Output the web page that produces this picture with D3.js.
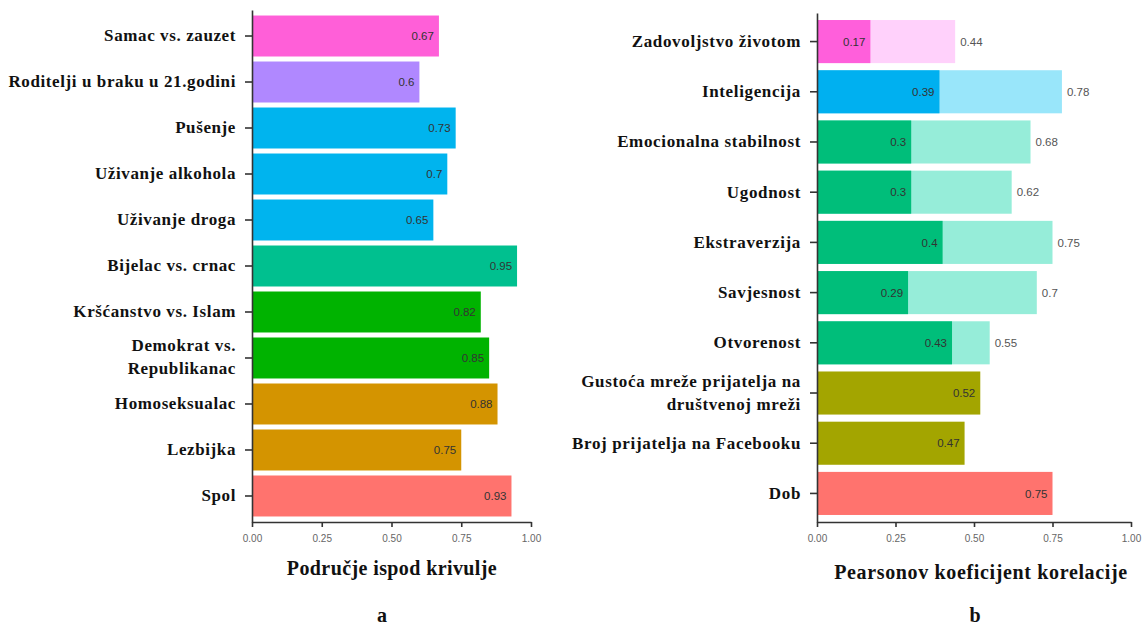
<!DOCTYPE html>
<html>
<head>
<meta charset="utf-8">
<script src="https://cdn.jsdelivr.net/npm/d3@7"></script>
<style>
  html, body { margin: 0; padding: 0; background: #ffffff; }
  svg { display: block; }
</style>
</head>
<body>
<svg id="chart" width="1148" height="628"></svg>
<script>
// ---------- DATA ----------
const leftCategories = [
  "Samac vs. zauzet",
  "Roditelji u braku u 21.godini",
  "Pušenje",
  "Uživanje alkohola",
  "Uživanje droga",
  "Bijelac vs. crnac",
  "Kršćanstvo vs. Islam",
  "Demokrat vs.\nRepublikanac",
  "Homoseksualac",
  "Lezbijka",
  "Spol"
];
const leftValues = [0.67, 0.6, 0.73, 0.7, 0.65, 0.95, 0.82, 0.85, 0.88, 0.75, 0.93];
const leftColors = ["#FF5FD8", "#B088FF", "#00B4EE", "#00B4EE", "#00B4EE", "#00C08F", "#00B300", "#00B300", "#D49400", "#D49400", "#FF736E"];

const rightCategories = [
  "Zadovoljstvo životom",
  "Inteligencija",
  "Emocionalna stabilnost",
  "Ugodnost",
  "Ekstraverzija",
  "Savjesnost",
  "Otvorenost",
  "Gustoća mreže prijatelja na\ndruštvenoj mreži",
  "Broj prijatelja na Facebooku",
  "Dob"
];
const rightValues = [0.17, 0.39, 0.3, 0.3, 0.4, 0.29, 0.43, 0.52, 0.47, 0.75];
const rightUpperValues = [0.44, 0.78, 0.68, 0.62, 0.75, 0.7, 0.55, null, null, null];
const rightColors = ["#FF5FDB", "#00B0F0", "#00BE7A", "#00BE7A", "#00BE7A", "#00BE7A", "#00BE7A", "#A3A500", "#A3A500", "#FF736E"];
const rightLightColors = ["#FFD1FB", "#99E6FA", "#96EDD9", "#96EDD9", "#96EDD9", "#96EDD9", "#96EDD9", null, null, null];

const xTicks = [0, 0.25, 0.5, 0.75, 1];
const leftTitle = "Područje ispod krivulje";
const rightTitle = "Pearsonov koeficijent korelacije";
const leftTag = "a";
const rightTag = "b";

// ---------- DRAW ----------
const svg = d3.select("#chart");
const serif = "'Liberation Serif', 'Times New Roman', serif";
const sans = "'Liberation Sans', Arial, sans-serif";

function panel(cfg) {
  const x = d3.scaleLinear().domain([0, 1]).range(cfg.xRange);
  const y = d3.scaleBand().domain(cfg.categories).range(cfg.yRange)
    .paddingInner(cfg.pi).paddingOuter(cfg.po);
  const g = svg.append("g");

  // light (upper) bars
  if (cfg.upper) {
    g.selectAll("rect.light").data(cfg.categories).enter()
      .filter((d, i) => cfg.upper[i] != null)
      .append("rect").attr("class", "light")
      .attr("x", x(0))
      .attr("y", d => y(d))
      .attr("width", d => x(cfg.upper[cfg.categories.indexOf(d)]) - x(0))
      .attr("height", y.bandwidth())
      .attr("fill", d => cfg.lightColors[cfg.categories.indexOf(d)]);
  }
  // main bars
  g.selectAll("rect.main").data(cfg.categories).enter()
    .append("rect").attr("class", "main")
    .attr("x", x(0))
    .attr("y", d => y(d))
    .attr("width", (d, i) => x(cfg.values[i]) - x(0))
    .attr("height", y.bandwidth())
    .attr("fill", (d, i) => cfg.colors[i]);

  // value labels inside
  g.selectAll("text.val").data(cfg.categories).enter()
    .append("text").attr("class", "val")
    .attr("x", (d, i) => x(cfg.values[i]) - 5)
    .attr("y", d => y(d) + y.bandwidth() / 2)
    .attr("dy", "0.36em")
    .attr("text-anchor", "end")
    .attr("font-family", sans).attr("font-size", 11.5)
    .attr("fill", "#333")
    .text((d, i) => String(cfg.values[i]));

  // upper value labels outside
  if (cfg.upper) {
    g.selectAll("text.uval").data(cfg.categories).enter()
      .filter((d, i) => cfg.upper[i] != null)
      .append("text").attr("class", "uval")
      .attr("x", d => x(cfg.upper[cfg.categories.indexOf(d)]) + 5)
      .attr("y", d => y(d) + y.bandwidth() / 2)
      .attr("dy", "0.36em")
      .attr("text-anchor", "start")
      .attr("font-family", sans).attr("font-size", 11.5)
      .attr("fill", "#555")
      .text(d => String(cfg.upper[cfg.categories.indexOf(d)]));
  }

  // x axis
  const xAxis = g.append("g")
    .attr("transform", `translate(0,${cfg.yRange[1]})`)
    .call(d3.axisBottom(x).tickValues(xTicks).tickFormat(d3.format(".2f"))
      .tickSize(5).tickSizeOuter(0).tickPadding(8));
  xAxis.select(".domain").attr("stroke", "#333").attr("stroke-width", 1.6);
  xAxis.selectAll(".tick line").attr("stroke", "#333").attr("stroke-width", 1.6);
  xAxis.selectAll(".tick text").attr("font-family", sans).attr("font-size", 10)
    .attr("fill", "#666");

  // y axis
  const yAxis = g.append("g")
    .attr("transform", `translate(${cfg.xRange[0]},0)`)
    .call(d3.axisLeft(y).tickSize(7).tickSizeOuter(0).tickPadding(9));
  yAxis.select(".domain").attr("stroke", "#333").attr("stroke-width", 1.6);
  yAxis.selectAll(".tick line").attr("stroke", "#333").attr("stroke-width", 1.6);
  yAxis.selectAll(".tick text")
    .attr("font-family", serif).attr("font-size", 17).attr("font-weight", "bold")
    .attr("letter-spacing", cfg.ls)
    .attr("fill", "#111")
    .each(function (d) {
      const lines = d.split("\n");
      if (lines.length > 1) {
        const t = d3.select(this);
        const xx = t.attr("x");
        t.text(null).attr("dy", null);
        lines.forEach((ln, k) => {
          t.append("tspan").attr("x", xx).attr("y", k === 0 ? -6.5 : 16.5).text(ln);
        });
      }
    });

  // axis title
  g.append("text")
    .attr("x", cfg.titleX).attr("y", cfg.titleY)
    .attr("text-anchor", "middle")
    .attr("font-family", serif).attr("font-size", 20).attr("font-weight", "bold")
    .attr("letter-spacing", cfg.tls)
    .attr("fill", "#111")
    .text(cfg.title);
  // panel tag
  g.append("text")
    .attr("x", cfg.tagX).attr("y", 622)
    .attr("text-anchor", "middle")
    .attr("font-family", serif).attr("font-size", 20).attr("font-weight", "bold")
    .attr("fill", "#111")
    .text(cfg.tag);
}

panel({
  categories: leftCategories, values: leftValues, colors: leftColors,
  xRange: [252, 531], yRange: [10, 522], pi: 0.109, po: 0.12, ls: 0.6, tls: 0.4,
  title: leftTitle, titleX: 392, titleY: 575, tag: leftTag, tagX: 382
});

panel({
  categories: rightCategories, values: rightValues, colors: rightColors,
  upper: rightUpperValues, lightColors: rightLightColors,
  xRange: [817, 1131], yRange: [13, 522], pi: 0.142, po: 0.14, ls: 0.65, tls: 0.65,
  title: rightTitle, titleX: 981, titleY: 579, tag: rightTag, tagX: 975
});
</script>
</body>
</html>
